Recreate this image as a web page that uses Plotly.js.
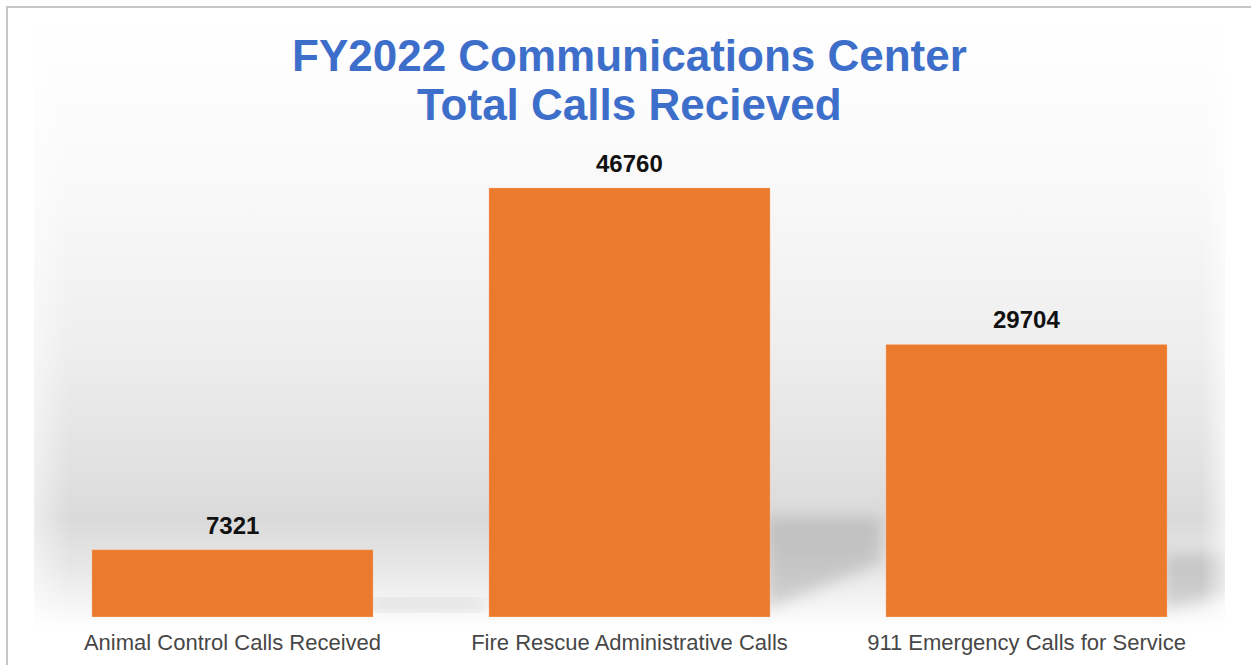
<!DOCTYPE html>
<html>
<head>
<meta charset="utf-8">
<script src="https://cdn.plot.ly/plotly-3.0.1.min.js"></script>
<style>
  html, body { margin: 0; padding: 0; background: #ffffff; }
  #wrap { position: relative; width: 1251px; height: 665px; overflow: hidden; }
  #frame {
    position: absolute; left: 6px; top: 6px; right: -4px; bottom: -4px;
    border-top: 2px solid #c6c6c6; border-left: 2px solid #c6c6c6;
    pointer-events: none; z-index: 2;
  }
  #chart { position: absolute; left: 0; top: 0; width: 1251px; height: 665px; }
</style>
</head>
<body>
<div id="wrap">
  <div id="chart"></div>
  <div id="frame"></div>
</div>
<script>
// chart data
const categories = [
  'Animal Control Calls Received',
  'Fire Rescue Administrative Calls',
  '911 Emergency Calls for Service'
];
const calls = [7321, 46760, 29704];
const titleLines = ['FY2022 Communications Center', 'Total Calls Recieved'];

const yMax = 50900;
const fontFamily = "'Liberation Sans', Arial, Helvetica, sans-serif";

// plot box (px), used to lay the backdrop under the bars
const W = 1251, H = 665;
const margin = { l: 34, r: 26, t: 150, b: 48 };
const plotW = W - margin.l - margin.r;
const plotH = H - margin.t - margin.b;
const bgTop = 20, bgBottom = 628;   // backdrop extent in page px
const bargap = 0.292;

// backdrop: grey gradient + blurred shadows next to the bars
function backdrop() {
  const bw = plotW, bh = bgBottom - bgTop;
  const base = (margin.t + plotH) - bgTop;
  const slot = plotW / categories.length;
  let shadow = '';
  calls.forEach((v, i) => {
    const xr = (i + 0.5) * slot + slot * (1 - bargap) / 2;
    const h = v / yMax * plotH * 0.23;
    const w = slot * 0.28;
    const pts = [
      [xr - 4, base - 8],
      [xr - 4, base - h],
      [xr + w, base - h],
      [xr + w, base - h * 0.55]
    ].map(p => p[0].toFixed(1) + ',' + p[1].toFixed(1)).join(' ');
    shadow += '<polygon points="' + pts + '" fill="#8a8a8a" fill-opacity="0.36" filter="url(#b)"/>';
  });
  const svg =
    '<svg xmlns="http://www.w3.org/2000/svg" width="' + bw + '" height="' + bh + '" viewBox="0 0 ' + bw + ' ' + bh + '">' +
    '<defs><linearGradient id="g" x1="0" y1="0" x2="0" y2="1">' +
    '<stop offset="0" stop-color="#ffffff"/>' +
    '<stop offset="0.30" stop-color="#f8f8f8"/>' +
    '<stop offset="0.54" stop-color="#eeeeee"/>' +
    '<stop offset="0.74" stop-color="#e1e1e1"/>' +
    '<stop offset="0.82" stop-color="#dadada"/>' +
    '<stop offset="0.90" stop-color="#e7e7e7"/>' +
    '<stop offset="0.97" stop-color="#f7f7f7"/>' +
    '<stop offset="1" stop-color="#ffffff"/>' +
    '</linearGradient>' +
    '<linearGradient id="side" x1="0" y1="0" x2="1" y2="0">' +
    '<stop offset="0" stop-color="#ffffff" stop-opacity="0.5"/>' +
    '<stop offset="0.03" stop-color="#ffffff" stop-opacity="0"/>' +
    '<stop offset="0.98" stop-color="#ffffff" stop-opacity="0"/>' +
    '<stop offset="1" stop-color="#ffffff" stop-opacity="0.6"/>' +
    '</linearGradient>' +
    '<filter id="b" x="-50%" y="-50%" width="200%" height="200%"><feGaussianBlur stdDeviation="8"/></filter></defs>' +
    '<rect width="' + bw + '" height="' + bh + '" fill="url(#g)"/>' +
    shadow +
    '<rect width="' + bw + '" height="' + bh + '" fill="url(#side)"/>' +
    '</svg>';
  return 'data:image/svg+xml;base64,' + btoa(svg);
}

const barTrace = {
  type: 'bar',
  x: categories,
  y: calls,
  marker: {
    color: '#eb7a2e',
    line: { color: 'rgba(255,200,160,0.35)', width: 1 }
  },
  hoverinfo: 'x+y'
};

// value labels above each bar
const valueLabels = categories.map((c, i) => ({
  x: c,
  y: calls[i],
  xref: 'x',
  yref: 'y',
  text: String(calls[i]),
  showarrow: false,
  yanchor: 'bottom',
  yshift: 9,
  font: { family: fontFamily, size: 24, color: '#111111', weight: 700 }
}));

// title, two lines
const titleY = [1.203, 1.098];
const titleAnn = titleLines.map((t, i) => ({
  x: 0.5,
  y: titleY[i],
  xref: 'paper',
  yref: 'paper',
  text: t,
  showarrow: false,
  yanchor: 'middle',
  font: { family: fontFamily, size: 44, color: '#3d6fca', weight: 700 }
}));

const layout = {
  width: W,
  height: H,
  margin: margin,
  paper_bgcolor: 'rgba(0,0,0,0)',
  plot_bgcolor: 'rgba(0,0,0,0)',
  bargap: bargap,
  showlegend: false,
  xaxis: {
    type: 'category',
    range: [-0.5, 2.5],
    showgrid: false,
    zeroline: false,
    showline: false,
    ticks: 'outside',
    ticklen: 6,
    tickcolor: 'rgba(0,0,0,0)',
    tickfont: { family: fontFamily, size: 22, color: '#474747' },
    fixedrange: true
  },
  yaxis: {
    range: [0, yMax],
    visible: false,
    fixedrange: true
  },
  images: [{
    source: backdrop(),
    xref: 'paper',
    yref: 'paper',
    x: 0,
    y: (margin.t + plotH - bgTop) / plotH,
    sizex: 1,
    sizey: (bgBottom - bgTop) / plotH,
    sizing: 'stretch',
    xanchor: 'left',
    yanchor: 'top',
    layer: 'below'
  }],
  annotations: titleAnn.concat(valueLabels)
};

Plotly.newPlot('chart', [barTrace], layout, { displayModeBar: false, responsive: false });
</script>
</body>
</html>
